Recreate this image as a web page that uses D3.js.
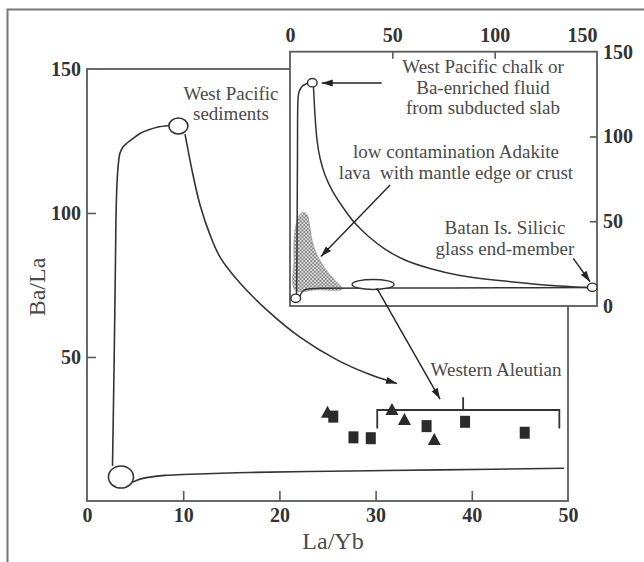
<!DOCTYPE html>
<html><head><meta charset="utf-8">
<script src="https://cdn.jsdelivr.net/npm/d3@7"></script>
<style>body{margin:0;background:#fff}svg{display:block}</style>
</head><body>
<script>
// ---- main plot data (La/Yb vs Ba/La) ----
const xTicks = [0, 10, 20, 30, 40, 50];
const yTicks = [50, 100, 150];
const squares = [[25.6,29.3],[27.7,22.1],[29.5,21.8],[35.3,26.0],[39.3,27.5],[45.5,23.7]];
const triangles = [[25.0,30.6],[31.7,31.6],[33.0,28.1],[36.1,21.2]];
const mantleEnd = [3.53, 8.33];
const sedimentEnd = [9.5, 130.2];
const mixUp = [[2.65,12.2],[2.76,35.1],[2.91,69.8],[3.01,97.6],[3.12,110.4],[3.27,117.4],[3.43,120.8],[3.74,122.9],[4.16,124.3],[4.78,125.9],[5.51,127.6],[6.34,128.8],[7.28,129.8],[8.52,130.4]];
const mixDown = [[10.19,127.4],[10.5,121.9],[11.02,113.2],[11.75,102.8],[12.79,92.4],[13.83,84.7],[15.9,75.7],[18.71,66.3],[22.14,56.9],[25.99,49.0],[29.42,43.9],[32.22,40.8]];
const mixFlat = [[4.78,6.6],[5.51,7.6],[6.55,8.3],[8.11,8.9],[9.98,9.2],[16.94,9.9],[27.34,10.4],[36.69,10.8],[49.58,11.35]];
const bracket = {x0:30.17, x1:49.1, xm:39.1, y:31.6, yLow:25.2, yTop:36.0};

// ---- inset data ----
const insetXTicks = [0, 50, 100, 150];
const insetYTicks = [0, 50, 100, 150];
const insetChalk = [10.9, 131.7];
const insetMantle = [2.8, 4.5];
const insetBatan = [147.7, 11.0];
const insetEllipse = [40.6, 12.7];
const insetUp = [[3.18,7.08],[3.42,33.0],[3.66,92.0],[3.91,121.5],[4.4,126.2],[5.86,129.5],[7.82,131.0],[9.04,131.5]];
const insetDown = [[11.48,129.2],[12.21,112.7],[13.19,97.9],[14.66,87.3],[17.1,77.3],[20.52,68.4],[25.41,59.0],[31.27,49.5],[38.11,41.3],[46.42,33.6],[56.19,27.1],[68.4,22.1],[83.06,18.0],[108.95,14.2],[131.92,11.8],[145.11,10.9]];
const insetFlat = [[4.64,5.3],[6.35,8.85],[8.79,10.0],[14.66,10.4],[53.74,10.6],[102.6,10.7],[145.6,10.9]];
const adakiteField = [[2.44,9.4],[1.95,27.1],[1.95,38.9],[2.93,47.8],[4.4,53.1],[6.35,55.2],[8.3,54.0],[9.3,49.3],[10.8,38.6],[13.2,30.1],[17.0,22.4],[21.3,15.9],[25.41,10.0],[13.0,9.6]];

const W = 644, H = 562;
const svg = d3.select("body").append("svg").attr("width", W).attr("height", H);
const serif = "'Liberation Serif','Times New Roman',serif";
const ink = "#333", frame = "#5a5a5a", txt = "#4a4a4a";

const defs = svg.append("defs");
defs.append("marker").attr("id","arr").attr("markerUnits","userSpaceOnUse")
  .attr("markerWidth",12).attr("markerHeight",8).attr("refX",11).attr("refY",4).attr("orient","auto")
  .append("path").attr("d","M0,0.5 L11,4 L0,7.5 z").attr("fill","#222");
const pat = defs.append("pattern").attr("id","hatch").attr("patternUnits","userSpaceOnUse")
  .attr("width",3.6).attr("height",3.6);
pat.append("rect").attr("width",3.6).attr("height",3.6).attr("fill","#e2e2e2");
pat.append("path").attr("d","M0,0 L3.6,3.6 M3.6,0 L0,3.6").attr("stroke","#6e6e6e").attr("stroke-width",0.75);

// outer frame
svg.append("path").attr("d",`M7.5,${H} L7.5,9.5 L${W},9.5`).attr("fill","none").attr("stroke","#777").attr("stroke-width",2);

// ---- main plot ----
const x = d3.scaleLinear().domain([0,50]).range([87,568]);
const y = d3.scaleLinear().domain([0,150]).range([501,69]);

svg.append("rect").attr("x",x(0)).attr("y",y(150)).attr("width",x(50)-x(0)).attr("height",y(0)-y(150))
  .attr("fill","none").attr("stroke",frame).attr("stroke-width",1.8);

const gx = svg.append("g").attr("transform",`translate(0,${y(0)})`)
  .call(d3.axisBottom(x).tickValues(xTicks).tickSize(-10).tickPadding(7).tickFormat(d3.format("d")));
const gy = svg.append("g").attr("transform",`translate(${x(0)},0)`)
  .call(d3.axisLeft(y).tickValues(yTicks).tickSize(-9).tickPadding(6).tickFormat(d3.format("d")));
[gx, gy].forEach(g => {
  g.select(".domain").remove();
  g.selectAll(".tick line").attr("stroke",frame).attr("stroke-width",1.6);
  g.selectAll(".tick text").attr("font-family",serif).attr("font-weight","bold").attr("font-size",20).attr("fill","#333");
});
gx.selectAll(".tick").filter(d => d === 0 || d === 50).select("line").remove();
gy.selectAll(".tick").filter(d => d === 150).select("line").remove();

const line = d3.line().x(d => x(d[0])).y(d => y(d[1])).curve(d3.curveCatmullRom.alpha(0.5));
svg.append("path").attr("d",line(mixUp)).attr("fill","none").attr("stroke",ink).attr("stroke-width",1.6);
svg.append("path").attr("d",line(mixDown)).attr("fill","none").attr("stroke",ink).attr("stroke-width",1.6).attr("marker-end","url(#arr)");
svg.append("path").attr("d",line(mixFlat)).attr("fill","none").attr("stroke",ink).attr("stroke-width",1.6);

svg.append("ellipse").attr("cx",x(mantleEnd[0])).attr("cy",y(mantleEnd[1])).attr("rx",12.5).attr("ry",11)
  .attr("fill","#fff").attr("stroke",ink).attr("stroke-width",1.6);
svg.append("ellipse").attr("cx",x(sedimentEnd[0])).attr("cy",y(sedimentEnd[1])).attr("rx",9.5).attr("ry",8)
  .attr("fill","#fff").attr("stroke",ink).attr("stroke-width",1.6);

// Western Aleutian bracket
svg.append("path").attr("d",
  `M${x(bracket.x0)},${y(bracket.yLow)} L${x(bracket.x0)},${y(bracket.y)} L${x(bracket.x1)},${y(bracket.y)} L${x(bracket.x1)},${y(bracket.yLow)} M${x(bracket.xm)},${y(bracket.y)} L${x(bracket.xm)},${y(bracket.yTop)}`)
  .attr("fill","none").attr("stroke",ink).attr("stroke-width",1.8);

// data points
svg.selectAll(".sq").data(squares).enter().append("rect")
  .attr("x",d => x(d[0]) - 5).attr("y",d => y(d[1]) - 6).attr("width",10).attr("height",12).attr("fill","#2b2b2b");
svg.selectAll(".tri").data(triangles).enter().append("path")
  .attr("d",d => `M${x(d[0])},${y(d[1])-7} L${x(d[0])+6.5},${y(d[1])+5} L${x(d[0])-6.5},${y(d[1])+5} Z`).attr("fill","#2b2b2b");

// labels
function label(xp, yp, lines, size, anchor) {
  const t = svg.append("text").attr("font-family",serif).attr("font-size",size).attr("fill",txt)
    .attr("text-anchor",anchor || "middle").attr("style","white-space:pre");
  lines.forEach((s,i) => t.append("tspan").attr("x",xp).attr("y",yp + i*20.8).text(s));
  return t;
}
label(231, 99.5, ["West Pacific","sediments"], 19);
label(496, 376, ["Western Aleutian"], 19);
svg.append("text").attr("transform","translate(45,287) rotate(-90)").attr("text-anchor","middle")
  .attr("font-family",serif).attr("font-size",24).attr("fill",txt).text("Ba/La");
svg.append("text").attr("x",333).attr("y",549).attr("text-anchor","middle")
  .attr("font-family",serif).attr("font-size",24).attr("fill",txt).text("La/Yb");

// ---- inset ----
const ix = d3.scaleLinear().domain([0,150]).range([290,597]);
const iy = d3.scaleLinear().domain([0,150]).range([306,51.7]);
const ig = svg.append("g");
ig.append("rect").attr("x",ix(0)).attr("y",iy(150)).attr("width",ix(150)-ix(0)).attr("height",iy(0)-iy(150))
  .attr("fill","#fff").attr("stroke",frame).attr("stroke-width",1.8);
const gix = ig.append("g").attr("transform",`translate(0,${iy(150)})`)
  .call(d3.axisTop(ix).tickValues(insetXTicks).tickSize(-7).tickPadding(10).tickFormat(d3.format("d")));
const giy = ig.append("g").attr("transform",`translate(${ix(150)},0)`)
  .call(d3.axisRight(iy).tickValues(insetYTicks).tickSize(-7).tickPadding(6).tickFormat(d3.format("d")));
[gix, giy].forEach(g => {
  g.select(".domain").remove();
  g.selectAll(".tick line").attr("stroke",frame).attr("stroke-width",1.6);
  g.selectAll(".tick text").attr("font-family",serif).attr("font-weight","bold").attr("font-size",20).attr("fill","#333");
});
gix.selectAll(".tick").filter(d => d === 0 || d === 150).select("line").remove();
giy.selectAll(".tick").filter(d => d === 0 || d === 150).select("line").remove();
gix.selectAll(".tick").filter(d => d === 150).select("text").attr("x",-15);

const iline = d3.line().x(d => ix(d[0])).y(d => iy(d[1])).curve(d3.curveCatmullRom.alpha(0.5));
ig.append("path").attr("d",d3.line().x(d => ix(d[0])).y(d => iy(d[1])).curve(d3.curveCatmullRomClosed.alpha(0.5))(adakiteField))
  .attr("fill","url(#hatch)").attr("stroke","#999").attr("stroke-width",0.7);
ig.append("path").attr("d",iline(insetUp)).attr("fill","none").attr("stroke",ink).attr("stroke-width",1.5);
ig.append("path").attr("d",iline(insetDown)).attr("fill","none").attr("stroke",ink).attr("stroke-width",1.5);
ig.append("path").attr("d",iline(insetFlat)).attr("fill","none").attr("stroke",ink).attr("stroke-width",1.5);
[insetChalk, insetMantle, insetBatan].forEach(p => {
  ig.append("ellipse").attr("cx",ix(p[0])).attr("cy",iy(p[1])).attr("rx",4.8).attr("ry",4.2)
    .attr("fill","#fff").attr("stroke",ink).attr("stroke-width",1.4);
});
ig.append("ellipse").attr("cx",ix(insetEllipse[0])).attr("cy",iy(insetEllipse[1])).attr("rx",21).attr("ry",5)
  .attr("fill","#fff").attr("stroke",ink).attr("stroke-width",1.4);

function arrow(x1,y1,x2,y2) {
  svg.append("line").attr("x1",x1).attr("y1",y1).attr("x2",x2).attr("y2",y2)
    .attr("stroke","#222").attr("stroke-width",1.4).attr("marker-end","url(#arr)");
}
arrow(ix(44.8), iy(131.5), ix(15.5), iy(131.5));
arrow(ix(48.9), iy(71.4), ix(15.1), iy(29.2));
arrow(ix(138.4), iy(28.1), ix(146.6), iy(14.3));
arrow(ix(42.4), iy(10.6), x(36.7), y(35.4));

label(483, 72.7, ["West Pacific chalk or","Ba-enriched fluid","from subducted slab"], 19);
label(456, 157.7, ["low contamination Adakite","lava  with mantle edge or crust"], 19);
label(505, 234.3, ["Batan Is. Silicic","glass end-member"], 19);
</script>
</body></html>
